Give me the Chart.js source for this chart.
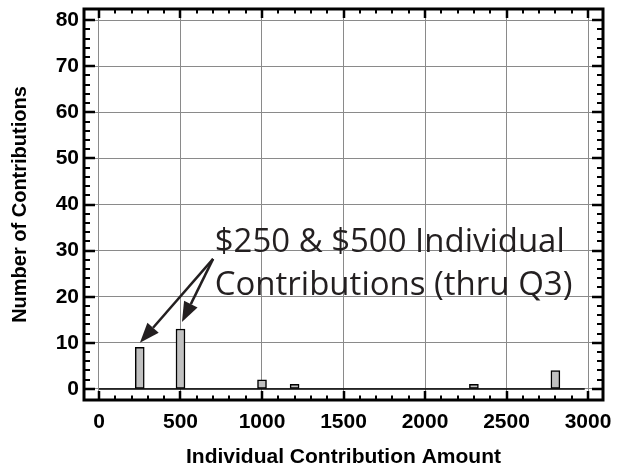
<!DOCTYPE html>
<html>
<head>
<meta charset="utf-8">
<script src="https://cdn.jsdelivr.net/npm/chart.js@4"></script>
<style>
  html, body { margin: 0; padding: 0; background: #fff; }
  #wrap { width: 619px; height: 470px; }
</style>
</head>
<body>
<div id="wrap"><canvas id="chart"></canvas></div>
<script>
// histogram bins (centre of bin, count)
const binCenters = [250, 500, 1000, 1200, 2300, 2800];
const binCounts = [9, 13, 2, 1, 1, 4];
// black zero line under the histogram
const baselineX = [0, 2980];

const xTicks = [0, 500, 1000, 1500, 2000, 2500, 3000];
const yTicks = [0, 10, 20, 30, 40, 50, 60, 70, 80];
const xMinorStep = 100;
const yMinorStep = 2;

// callout text and arrows (data coordinates)
const noteLines = ['$250 & $500 Individual', 'Contributions (thru Q3)'];
const noteX = 710;
const noteY = [29.7, 20.4];
const noteWidths = [350, 358];
const arrowFrom = { x: 700, y: 28.2 };
const arrowTips = [{ x: 251, y: 10 }, { x: 509, y: 14.5 }];

const ink = '#231f20';
const grid_color = '#8a8a8a';

function generate_title(text, size, pad) {
    return { display: true, text: text, color: '#000', padding: pad,
             font: { family: 'Liberation Sans', size: size, weight: 'bold' } };
}
function tick_font(size) {
    return { family: 'Liberation Sans', size: size, weight: 'bold' };
}

// frame with inward major/minor ticks, plus the callout
const framePlugin = {
    id: 'frame',
    afterDatasetsDraw(chart) {
        const ctx = chart.ctx;
        const xs = chart.scales.x, ys = chart.scales.y;
        ctx.save();
        // callout text
        ctx.fillStyle = ink;
        ctx.font = '33px "Open Sans"';
        ctx.textBaseline = 'alphabetic';
        noteLines.forEach((line, i) => {
            ctx.fillText(line, xs.getPixelForValue(noteX), ys.getPixelForValue(noteY[i]), noteWidths[i]);
        });
        // arrows
        const fx = xs.getPixelForValue(arrowFrom.x), fy = ys.getPixelForValue(arrowFrom.y);
        arrowTips.forEach(t => {
            const tx = xs.getPixelForValue(t.x), ty = ys.getPixelForValue(t.y);
            const ang = Math.atan2(ty - fy, tx - fx);
            const headLen = 20, headHalf = 7.5;
            const bx = tx - headLen * Math.cos(ang), by = ty - headLen * Math.sin(ang);
            ctx.strokeStyle = ink;
            ctx.lineWidth = 2.5;
            ctx.beginPath();
            ctx.moveTo(fx, fy);
            ctx.lineTo(bx, by);
            ctx.stroke();
            ctx.beginPath();
            ctx.moveTo(tx, ty);
            ctx.lineTo(bx + headHalf * Math.sin(ang), by - headHalf * Math.cos(ang));
            ctx.lineTo(bx - headHalf * Math.sin(ang), by + headHalf * Math.cos(ang));
            ctx.closePath();
            ctx.fill();
        });
        ctx.restore();
    },
    afterDraw(chart) {
        const ctx = chart.ctx;
        const a = chart.chartArea;
        const xs = chart.scales.x, ys = chart.scales.y;
        ctx.save();
        ctx.strokeStyle = '#000';
        // minor + major ticks on the x sides
        for (let v = xTicks[0]; v <= xTicks[xTicks.length - 1]; v += xMinorStep) {
            const major = xTicks.includes(v);
            const len = major ? 9 : 4.5;
            const px = Math.round(xs.getPixelForValue(v));
            ctx.lineWidth = major ? 2.5 : 2;
            ctx.beginPath();
            ctx.moveTo(px, a.bottom); ctx.lineTo(px, a.bottom - len);
            ctx.moveTo(px, a.top); ctx.lineTo(px, a.top + len);
            ctx.stroke();
        }
        // and on the y sides
        for (let v = yTicks[0]; v <= yTicks[yTicks.length - 1]; v += yMinorStep) {
            const major = yTicks.includes(v);
            const len = major ? 11 : 6;
            const py = Math.round(ys.getPixelForValue(v));
            ctx.lineWidth = major ? 2.5 : 2;
            ctx.beginPath();
            ctx.moveTo(a.left, py); ctx.lineTo(a.left + len, py);
            ctx.moveTo(a.right, py); ctx.lineTo(a.right - len, py);
            ctx.stroke();
        }
        ctx.lineWidth = 3;
        ctx.strokeRect(a.left, a.top, a.right - a.left, a.bottom - a.top);
        ctx.restore();
    }
};

const data = {
    datasets: [
        {
            type: 'line',
            data: baselineX.map(x => ({ x: x, y: 0 })),
            borderColor: '#000',
            borderWidth: 1.5,
            pointRadius: 0,
            order: 0
        },
        {
            type: 'bar',
            data: binCenters.map((x, i) => ({ x: x, y: binCounts[i] })),
            backgroundColor: '#c0c0c0',
            borderColor: '#000',
            borderWidth: 1.5,
            borderSkipped: false,
            barThickness: 9,
            order: 1
        }
    ]
};

const options = {
    animation: false,
    responsive: true,
    maintainAspectRatio: false,
    layout: { padding: { top: 9, right: 16, left: 0, bottom: 0 } },
    plugins: { legend: { display: false }, tooltip: { enabled: false } },
    scales: {
        x: {
            type: 'linear',
            min: -92, max: 3092,
            offset: false,
            afterBuildTicks: s => { s.ticks = xTicks.map(v => ({ value: v })); },
            afterFit: s => { s.height = 70; s.paddingLeft = 0; s.paddingRight = 0; },
            grid: { display: true, color: grid_color, lineWidth: 1, drawTicks: false, offset: false },
            border: { display: false },
            ticks: { color: '#000', padding: 10, maxRotation: 0, font: tick_font(21),
                     callback: v => String(v) },
            title: generate_title('Individual Contribution Amount', 21, { top: -1, bottom: 0 })
        },
        y: {
            type: 'linear',
            min: -2.4, max: 82.4,
            afterBuildTicks: s => { s.ticks = yTicks.map(v => ({ value: v })); },
            afterFit: s => { s.width = 84; s.paddingTop = 0; s.paddingBottom = 0; },
            grid: { display: true, color: grid_color, lineWidth: 1, drawTicks: false },
            border: { display: false },
            ticks: { color: '#000', padding: 5, font: tick_font(21),
                     callback: v => String(v) },
            title: generate_title('Number of Contributions', 20, { top: 8, bottom: 0 })
        }
    }
};

new Chart(document.getElementById('chart'), { type: 'bar', data: data, options: options, plugins: [framePlugin] });
</script>
</body>
</html>
